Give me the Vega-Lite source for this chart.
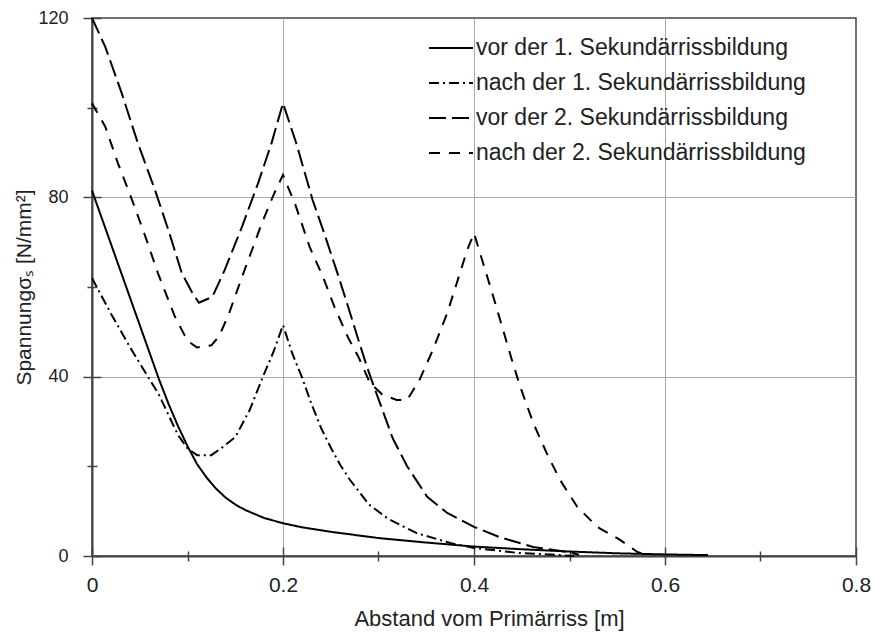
{
  "$schema": "https://vega.github.io/schema/vega-lite/v6.json",
  "width": 764,
  "height": 538,
  "autosize": {"type": "none"},
  "padding": {"left": 92, "top": 18, "right": 18, "bottom": 77},
  "background": "white",
  "config": {
    "font": "Liberation Sans",
    "view": {"stroke": "#444", "strokeWidth": 1.5}
  },
  "data": {
    "values": [
      {"x": 0, "y": 81.5, "s": "vor der 1. Sekundärrissbildung"},
      {"x": 0.01, "y": 75.5, "s": "vor der 1. Sekundärrissbildung"},
      {"x": 0.02, "y": 69.5, "s": "vor der 1. Sekundärrissbildung"},
      {"x": 0.03, "y": 63.5, "s": "vor der 1. Sekundärrissbildung"},
      {"x": 0.04, "y": 57.5, "s": "vor der 1. Sekundärrissbildung"},
      {"x": 0.05, "y": 51.5, "s": "vor der 1. Sekundärrissbildung"},
      {"x": 0.06, "y": 45.5, "s": "vor der 1. Sekundärrissbildung"},
      {"x": 0.07, "y": 39.5, "s": "vor der 1. Sekundärrissbildung"},
      {"x": 0.08, "y": 34, "s": "vor der 1. Sekundärrissbildung"},
      {"x": 0.09, "y": 29, "s": "vor der 1. Sekundärrissbildung"},
      {"x": 0.1, "y": 24.5, "s": "vor der 1. Sekundärrissbildung"},
      {"x": 0.11, "y": 20.5, "s": "vor der 1. Sekundärrissbildung"},
      {"x": 0.12, "y": 17.5, "s": "vor der 1. Sekundärrissbildung"},
      {"x": 0.13, "y": 15, "s": "vor der 1. Sekundärrissbildung"},
      {"x": 0.14, "y": 13, "s": "vor der 1. Sekundärrissbildung"},
      {"x": 0.15, "y": 11.5, "s": "vor der 1. Sekundärrissbildung"},
      {"x": 0.16, "y": 10.3, "s": "vor der 1. Sekundärrissbildung"},
      {"x": 0.18, "y": 8.5, "s": "vor der 1. Sekundärrissbildung"},
      {"x": 0.2, "y": 7.3, "s": "vor der 1. Sekundärrissbildung"},
      {"x": 0.22, "y": 6.4, "s": "vor der 1. Sekundärrissbildung"},
      {"x": 0.25, "y": 5.4, "s": "vor der 1. Sekundärrissbildung"},
      {"x": 0.3, "y": 4, "s": "vor der 1. Sekundärrissbildung"},
      {"x": 0.35, "y": 3, "s": "vor der 1. Sekundärrissbildung"},
      {"x": 0.4, "y": 2.1, "s": "vor der 1. Sekundärrissbildung"},
      {"x": 0.45, "y": 1.5, "s": "vor der 1. Sekundärrissbildung"},
      {"x": 0.5, "y": 1, "s": "vor der 1. Sekundärrissbildung"},
      {"x": 0.55, "y": 0.6, "s": "vor der 1. Sekundärrissbildung"},
      {"x": 0.6, "y": 0.35, "s": "vor der 1. Sekundärrissbildung"},
      {"x": 0.645, "y": 0.2, "s": "vor der 1. Sekundärrissbildung"},

      {"x": 0, "y": 62, "s": "nach der 1. Sekundärrissbildung"},
      {"x": 0.02, "y": 54, "s": "nach der 1. Sekundärrissbildung"},
      {"x": 0.04, "y": 46.5, "s": "nach der 1. Sekundärrissbildung"},
      {"x": 0.06, "y": 39.5, "s": "nach der 1. Sekundärrissbildung"},
      {"x": 0.07, "y": 36, "s": "nach der 1. Sekundärrissbildung"},
      {"x": 0.08, "y": 31.5, "s": "nach der 1. Sekundärrissbildung"},
      {"x": 0.09, "y": 27, "s": "nach der 1. Sekundärrissbildung"},
      {"x": 0.1, "y": 24, "s": "nach der 1. Sekundärrissbildung"},
      {"x": 0.11, "y": 22.5, "s": "nach der 1. Sekundärrissbildung"},
      {"x": 0.125, "y": 22.5, "s": "nach der 1. Sekundärrissbildung"},
      {"x": 0.135, "y": 24, "s": "nach der 1. Sekundärrissbildung"},
      {"x": 0.15, "y": 26.5, "s": "nach der 1. Sekundärrissbildung"},
      {"x": 0.165, "y": 32.5, "s": "nach der 1. Sekundärrissbildung"},
      {"x": 0.18, "y": 40.5, "s": "nach der 1. Sekundärrissbildung"},
      {"x": 0.19, "y": 45.5, "s": "nach der 1. Sekundärrissbildung"},
      {"x": 0.2, "y": 51.5, "s": "nach der 1. Sekundärrissbildung"},
      {"x": 0.21, "y": 45, "s": "nach der 1. Sekundärrissbildung"},
      {"x": 0.22, "y": 39.8, "s": "nach der 1. Sekundärrissbildung"},
      {"x": 0.23, "y": 33.8, "s": "nach der 1. Sekundärrissbildung"},
      {"x": 0.24, "y": 28.5, "s": "nach der 1. Sekundärrissbildung"},
      {"x": 0.25, "y": 24.2, "s": "nach der 1. Sekundärrissbildung"},
      {"x": 0.26, "y": 20.3, "s": "nach der 1. Sekundärrissbildung"},
      {"x": 0.27, "y": 17, "s": "nach der 1. Sekundärrissbildung"},
      {"x": 0.29, "y": 11.5, "s": "nach der 1. Sekundärrissbildung"},
      {"x": 0.31, "y": 8.3, "s": "nach der 1. Sekundärrissbildung"},
      {"x": 0.34, "y": 5.1, "s": "nach der 1. Sekundärrissbildung"},
      {"x": 0.375, "y": 2.9, "s": "nach der 1. Sekundärrissbildung"},
      {"x": 0.4, "y": 1.8, "s": "nach der 1. Sekundärrissbildung"},
      {"x": 0.445, "y": 0.7, "s": "nach der 1. Sekundärrissbildung"},
      {"x": 0.49, "y": 0.2, "s": "nach der 1. Sekundärrissbildung"},
      {"x": 0.505, "y": 0, "s": "nach der 1. Sekundärrissbildung"},

      {"x": 0, "y": 120, "s": "vor der 2. Sekundärrissbildung"},
      {"x": 0.014, "y": 113.5, "s": "vor der 2. Sekundärrissbildung"},
      {"x": 0.031, "y": 103.3, "s": "vor der 2. Sekundärrissbildung"},
      {"x": 0.048, "y": 92.1, "s": "vor der 2. Sekundärrissbildung"},
      {"x": 0.066, "y": 81.6, "s": "vor der 2. Sekundärrissbildung"},
      {"x": 0.08, "y": 72.7, "s": "vor der 2. Sekundärrissbildung"},
      {"x": 0.094, "y": 63.1, "s": "vor der 2. Sekundärrissbildung"},
      {"x": 0.105, "y": 58.7, "s": "vor der 2. Sekundärrissbildung"},
      {"x": 0.112, "y": 56.5, "s": "vor der 2. Sekundärrissbildung"},
      {"x": 0.126, "y": 57.8, "s": "vor der 2. Sekundärrissbildung"},
      {"x": 0.139, "y": 63.8, "s": "vor der 2. Sekundärrissbildung"},
      {"x": 0.157, "y": 73.4, "s": "vor der 2. Sekundärrissbildung"},
      {"x": 0.174, "y": 83.2, "s": "vor der 2. Sekundärrissbildung"},
      {"x": 0.188, "y": 92.1, "s": "vor der 2. Sekundärrissbildung"},
      {"x": 0.2, "y": 101, "s": "vor der 2. Sekundärrissbildung"},
      {"x": 0.214, "y": 92, "s": "vor der 2. Sekundärrissbildung"},
      {"x": 0.231, "y": 79.4, "s": "vor der 2. Sekundärrissbildung"},
      {"x": 0.242, "y": 72.7, "s": "vor der 2. Sekundärrissbildung"},
      {"x": 0.257, "y": 63.1, "s": "vor der 2. Sekundärrissbildung"},
      {"x": 0.267, "y": 56.4, "s": "vor der 2. Sekundärrissbildung"},
      {"x": 0.28, "y": 47.5, "s": "vor der 2. Sekundärrissbildung"},
      {"x": 0.289, "y": 41.5, "s": "vor der 2. Sekundärrissbildung"},
      {"x": 0.3, "y": 35, "s": "vor der 2. Sekundärrissbildung"},
      {"x": 0.315, "y": 26.2, "s": "vor der 2. Sekundärrissbildung"},
      {"x": 0.33, "y": 20, "s": "vor der 2. Sekundärrissbildung"},
      {"x": 0.351, "y": 13.2, "s": "vor der 2. Sekundärrissbildung"},
      {"x": 0.372, "y": 9.6, "s": "vor der 2. Sekundärrissbildung"},
      {"x": 0.4, "y": 6.5, "s": "vor der 2. Sekundärrissbildung"},
      {"x": 0.427, "y": 4.2, "s": "vor der 2. Sekundärrissbildung"},
      {"x": 0.462, "y": 2, "s": "vor der 2. Sekundärrissbildung"},
      {"x": 0.497, "y": 0.9, "s": "vor der 2. Sekundärrissbildung"},
      {"x": 0.51, "y": 0.3, "s": "vor der 2. Sekundärrissbildung"},

      {"x": 0, "y": 101, "s": "nach der 2. Sekundärrissbildung"},
      {"x": 0.014, "y": 95.7, "s": "nach der 2. Sekundärrissbildung"},
      {"x": 0.027, "y": 87.7, "s": "nach der 2. Sekundärrissbildung"},
      {"x": 0.042, "y": 79.4, "s": "nach der 2. Sekundärrissbildung"},
      {"x": 0.056, "y": 71.2, "s": "nach der 2. Sekundärrissbildung"},
      {"x": 0.069, "y": 63.1, "s": "nach der 2. Sekundärrissbildung"},
      {"x": 0.087, "y": 53.3, "s": "nach der 2. Sekundärrissbildung"},
      {"x": 0.1, "y": 48, "s": "nach der 2. Sekundärrissbildung"},
      {"x": 0.11, "y": 46.5, "s": "nach der 2. Sekundärrissbildung"},
      {"x": 0.125, "y": 47, "s": "nach der 2. Sekundärrissbildung"},
      {"x": 0.133, "y": 49, "s": "nach der 2. Sekundärrissbildung"},
      {"x": 0.143, "y": 53.8, "s": "nach der 2. Sekundärrissbildung"},
      {"x": 0.157, "y": 62.2, "s": "nach der 2. Sekundärrissbildung"},
      {"x": 0.178, "y": 74.3, "s": "nach der 2. Sekundärrissbildung"},
      {"x": 0.19, "y": 80.5, "s": "nach der 2. Sekundärrissbildung"},
      {"x": 0.2, "y": 85, "s": "nach der 2. Sekundärrissbildung"},
      {"x": 0.213, "y": 78.3, "s": "nach der 2. Sekundärrissbildung"},
      {"x": 0.228, "y": 68.9, "s": "nach der 2. Sekundärrissbildung"},
      {"x": 0.242, "y": 62.2, "s": "nach der 2. Sekundärrissbildung"},
      {"x": 0.254, "y": 55.5, "s": "nach der 2. Sekundärrissbildung"},
      {"x": 0.268, "y": 48.8, "s": "nach der 2. Sekundärrissbildung"},
      {"x": 0.279, "y": 44.4, "s": "nach der 2. Sekundärrissbildung"},
      {"x": 0.291, "y": 38.6, "s": "nach der 2. Sekundärrissbildung"},
      {"x": 0.304, "y": 36, "s": "nach der 2. Sekundärrissbildung"},
      {"x": 0.319, "y": 34.8, "s": "nach der 2. Sekundärrissbildung"},
      {"x": 0.33, "y": 34.8, "s": "nach der 2. Sekundärrissbildung"},
      {"x": 0.343, "y": 39.3, "s": "nach der 2. Sekundärrissbildung"},
      {"x": 0.357, "y": 46, "s": "nach der 2. Sekundärrissbildung"},
      {"x": 0.372, "y": 54.2, "s": "nach der 2. Sekundärrissbildung"},
      {"x": 0.382, "y": 60.9, "s": "nach der 2. Sekundärrissbildung"},
      {"x": 0.393, "y": 68.3, "s": "nach der 2. Sekundärrissbildung"},
      {"x": 0.4, "y": 72, "s": "nach der 2. Sekundärrissbildung"},
      {"x": 0.42, "y": 58, "s": "nach der 2. Sekundärrissbildung"},
      {"x": 0.44, "y": 43.5, "s": "nach der 2. Sekundärrissbildung"},
      {"x": 0.448, "y": 38, "s": "nach der 2. Sekundärrissbildung"},
      {"x": 0.462, "y": 29.7, "s": "nach der 2. Sekundärrissbildung"},
      {"x": 0.476, "y": 23, "s": "nach der 2. Sekundärrissbildung"},
      {"x": 0.49, "y": 17, "s": "nach der 2. Sekundärrissbildung"},
      {"x": 0.508, "y": 11, "s": "nach der 2. Sekundärrissbildung"},
      {"x": 0.529, "y": 6.5, "s": "nach der 2. Sekundärrissbildung"},
      {"x": 0.553, "y": 3.6, "s": "nach der 2. Sekundärrissbildung"},
      {"x": 0.571, "y": 0.9, "s": "nach der 2. Sekundärrissbildung"},
      {"x": 0.58, "y": 0.3, "s": "nach der 2. Sekundärrissbildung"}
    ]
  },
  "layer": [
    {
      "mark": {"type": "line", "color": "black", "strokeWidth": 2},
      "encoding": {
        "x": {
          "field": "x", "type": "quantitative",
          "scale": {"domain": [0, 0.8], "nice": false, "zero": false},
          "axis": {
            "orient": "bottom",
            "values": [0, 0.1, 0.2, 0.3, 0.4, 0.5, 0.6, 0.7, 0.8],
            "labelExpr": "round(datum.value*10)%2 == 0 ? format(datum.value, '~g') : ''",
            "labelFlush": false,
            "labelFontSize": 21,
            "labelColor": "#222",
            "labelPadding": 9,
            "title": "Abstand vom Primärriss [m]",
            "titleFontSize": 22,
            "titleFontWeight": "normal",
            "titleColor": "#222",
            "titlePadding": 13,
            "titleX": 397,
            "domainColor": "#444",
            "domainWidth": 2,
            "tickColor": "#444",
            "tickWidth": 1.5,
            "tickSize": {"condition": {"test": "round(datum.value*10)%2 == 1", "value": 5}, "value": 9},
            "grid": true,
            "gridColor": "#aaa",
            "gridWidth": 1,
            "gridOpacity": {"condition": {"test": "round(datum.value*10)%2 == 1 || datum.value == 0 || datum.value > 0.79", "value": 0}, "value": 1}
          }
        },
        "y": {
          "field": "y", "type": "quantitative",
          "scale": {"domain": [0, 120], "nice": false},
          "axis": {
            "orient": "left",
            "values": [0, 20, 40, 60, 80, 100, 120],
            "labelExpr": "datum.value % 40 == 0 ? datum.label : ''",
            "labelFontSize": 18,
            "labelColor": "#222",
            "labelPadding": 15,
            "title": "Spannungσₛ  [N/mm²]",
            "titleFontSize": 21,
            "titleFontWeight": "normal",
            "titleColor": "#222",
            "titlePadding": 3,
            "domainColor": "#444",
            "domainWidth": 2,
            "tickColor": "#444",
            "tickWidth": 1.5,
            "tickSize": {"condition": {"test": "datum.value % 40 != 0", "value": 5}, "value": 9},
            "grid": true,
            "gridColor": "#aaa",
            "gridWidth": 1,
            "gridOpacity": {"condition": {"test": "datum.value % 40 != 0 || datum.value == 0 || datum.value == 120", "value": 0}, "value": 1}
          }
        },
        "strokeDash": {
          "field": "s", "type": "nominal",
          "scale": {
            "domain": ["vor der 1. Sekundärrissbildung", "nach der 1. Sekundärrissbildung", "vor der 2. Sekundärrissbildung", "nach der 2. Sekundärrissbildung"],
            "range": [[1, 0], [10, 4, 2, 4], [17, 6], [11, 9]]
          },
          "legend": {
            "orient": "none",
            "legendX": 336,
            "legendY": 7,
            "title": null,
            "padding": 0,
            "symbolType": "stroke",
            "symbolSize": 1936,
            "symbolStrokeWidth": 2,
            "symbolStrokeColor": "black",
            "labelFontSize": 23,
            "labelColor": "#222",
            "labelLimit": 500,
            "labelOffset": 2,
            "rowPadding": -8
          }
        }
      }
    },
    {
      "mark": {"type": "point", "opacity": 0, "size": 0},
      "encoding": {
        "x": {
          "field": "x", "type": "quantitative",
          "axis": {
            "orient": "bottom",
            "values": [0, 0.1, 0.2, 0.3, 0.4, 0.5, 0.6, 0.7, 0.8],
            "labels": false,
            "title": null,
            "domain": false,
            "grid": false,
            "tickColor": "#444",
            "tickWidth": 1.5,
            "tickSize": {"condition": {"test": "round(datum.value*10)%2 == 1", "value": -5}, "value": -9}
          }
        },
        "y": {
          "field": "y", "type": "quantitative",
          "axis": {
            "orient": "left",
            "values": [0, 20, 40, 60, 80, 100, 120],
            "labels": false,
            "title": null,
            "domain": false,
            "grid": false,
            "tickColor": "#444",
            "tickWidth": 1.5,
            "tickSize": {"condition": {"test": "datum.value % 40 != 0", "value": -5}, "value": -9}
          }
        }
      }
    }
  ],
  "resolve": {"axis": {"x": "independent", "y": "independent"}}
}
